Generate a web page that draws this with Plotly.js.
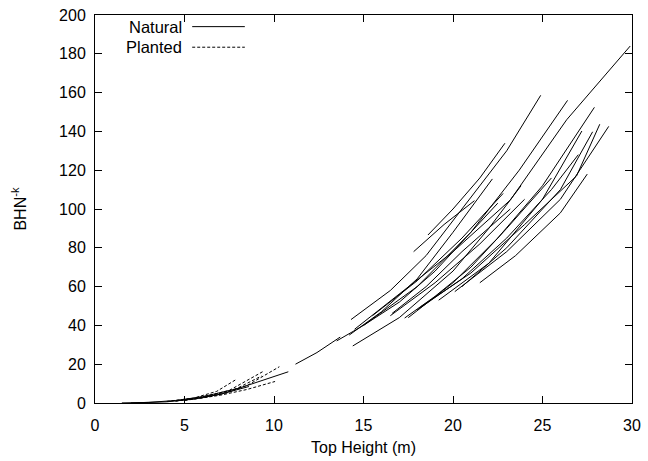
<!DOCTYPE html>
<html><head><meta charset="utf-8">
<script src="https://cdn.plot.ly/plotly-3.0.1.min.js"></script>
<style>body{margin:0;background:#fff}#c{width:648px;height:461px}</style>
</head><body><div id="c"></div>
<script>
// Natural stands: each entry is one stand's trajectory (top height, BHN^-k)
const naturalX = [
  [11.2, 12.4, 13.7],
  [14.3, 16.5, 18.5, 20.9, 23.0, 24.9],
  [14.5, 17.0, 20.0, 23.2, 26.35, 29.9],
  [15.0, 18.0, 21.0, 23.7, 26.4],
  [17.5, 20.0, 22.5, 25.0, 27.9],
  [18.2, 21.0, 24.0, 26.9, 28.2],
  [20.1, 23.0, 26.0, 28.7],
  [19.2, 22.0, 25.0, 27.2],
  [20.5, 23.0, 26.0, 27.8],
  [14.2, 16.0, 18.0, 20.0, 22.2],
  [14.4, 17.0, 20.0, 22.0, 23.8],
  [16.6, 18.5, 20.5, 23.2],
  [18.6, 20.0, 21.5, 22.9],
  [17.8, 19.5, 21.2],
  [17.3, 19.0, 21.0, 23.0, 25.5],
  [13.5, 15.0, 17.0, 19.0, 21.0, 22.5],
  [15.5, 18.0, 20.5, 22.8],
  [16.5, 19.0, 21.5, 24.0],
  [18.0, 20.5, 23.0, 25.5, 27.0],
  [21.5, 23.5, 26.0, 27.5],
  [1.5, 3.0, 4.5, 6.0, 8.0, 10.8],
  [2.0, 4.0, 5.5, 7.0, 8.6]
];
const naturalY = [
  [20, 26, 34],
  [43, 58, 76, 104.6, 130, 158.6],
  [38, 56, 78, 104.6, 146, 184],
  [40, 60, 88, 120, 156],
  [44, 62, 85, 112, 152.4],
  [49.6, 67, 92, 117, 143.7],
  [57.4, 78, 105, 142.6],
  [53, 72, 105, 140.2],
  [60, 80, 110, 139.8],
  [35, 47, 64, 88, 115.5],
  [29.4, 44, 68, 90, 112],
  [46.2, 60, 78, 100],
  [86.6, 100, 116, 133.9],
  [78, 92, 104.3],
  [43.8, 55, 70, 90, 116],
  [32, 40, 52, 68, 88, 103],
  [45, 63, 85, 108],
  [45, 62, 82, 105],
  [48, 64, 85, 110, 128],
  [62, 76, 98, 118],
  [0.05, 0.3, 1.3, 3.2, 7.5, 16.1],
  [0.05, 0.6, 2.0, 4.5, 8.5]
];
// Planted stands
const plantedX = [
  [4.0, 5.5, 6.8, 7.9],
  [4.5, 6.0, 7.5, 9.4],
  [5.0, 7.0, 8.5, 10.3],
  [5.0, 7.0, 8.5, 10.06],
  [4.5, 6.0, 7.5, 9.3],
  [5.5, 7.0, 8.2]
];
const plantedY = [
  [0.8, 2.5, 6.0, 12.2],
  [1.0, 3.0, 6.5, 16.3],
  [1.5, 5.0, 9.0, 18.7],
  [1.3, 4.0, 7.0, 11.1],
  [1.0, 2.6, 5.5, 13.9],
  [2.0, 4.5, 8.0]
];
const xTicks = [0, 5, 10, 15, 20, 25, 30];
const yTicks = [0, 20, 40, 60, 80, 100, 120, 140, 160, 180, 200];
const seriesNames = ['Natural', 'Planted'];

const traces = [];
naturalX.forEach((xs, i) => traces.push({
  x: xs, y: naturalY[i], type: 'scatter', mode: 'lines', name: seriesNames[0],
  showlegend: false, line: {color: '#000', width: 1}, hoverinfo: 'skip'
}));
plantedX.forEach((xs, i) => traces.push({
  x: xs, y: plantedY[i], type: 'scatter', mode: 'lines', name: seriesNames[1],
  showlegend: false, line: {color: '#000', width: 1, dash: '3px,2px'}, hoverinfo: 'skip'
}));

const font = {family: 'Liberation Sans, Arial, sans-serif', size: 16, color: '#000'};
const legendFont = {family: 'Liberation Sans, Arial, sans-serif', size: 16.5, color: '#000'};
const axisCommon = {
  showgrid: false, zeroline: false, showline: true, linecolor: '#000', linewidth: 1,
  mirror: 'ticks', ticks: 'inside', ticklen: 7, tickcolor: '#000', tickwidth: 1,
  tickfont: font
};
const layout = {
  width: 648, height: 461,
  margin: {l: 95, r: 16, t: 15, b: 58},
  paper_bgcolor: '#fff', plot_bgcolor: '#fff',
  font: font, showlegend: false,
  xaxis: Object.assign({}, axisCommon, {
    range: [0, 30], tickvals: xTicks, ticktext: xTicks.map(String),
    ticklabelstandoff: 8,
    title: {text: 'Top Height (m)', font: font, standoff: 8}
  }),
  yaxis: Object.assign({}, axisCommon, {
    range: [0, 200], tickvals: yTicks, ticktext: yTicks.map(String),
    ticklabelstandoff: 5,
    title: {text: 'BHN<sup>-k</sup>', font: font, standoff: 28}
  }),
  annotations: [
    {xref: 'paper', yref: 'paper', x: 0.164, y: 0.97, xanchor: 'right', yanchor: 'middle',
     text: seriesNames[0], showarrow: false, font: legendFont, borderpad: 0},
    {xref: 'paper', yref: 'paper', x: 0.164, y: 0.917, xanchor: 'right', yanchor: 'middle',
     text: seriesNames[1], showarrow: false, font: legendFont, borderpad: 0}
  ],
  shapes: [
    {type: 'line', xref: 'paper', yref: 'paper', x0: 0.181, x1: 0.279, y0: 0.97, y1: 0.97,
     line: {color: '#000', width: 1}},
    {type: 'line', xref: 'paper', yref: 'paper', x0: 0.181, x1: 0.279, y0: 0.917, y1: 0.917,
     line: {color: '#000', width: 1, dash: '3px,2px'}}
  ]
};
Plotly.newPlot('c', traces, layout, {staticPlot: true});
</script></body></html>
